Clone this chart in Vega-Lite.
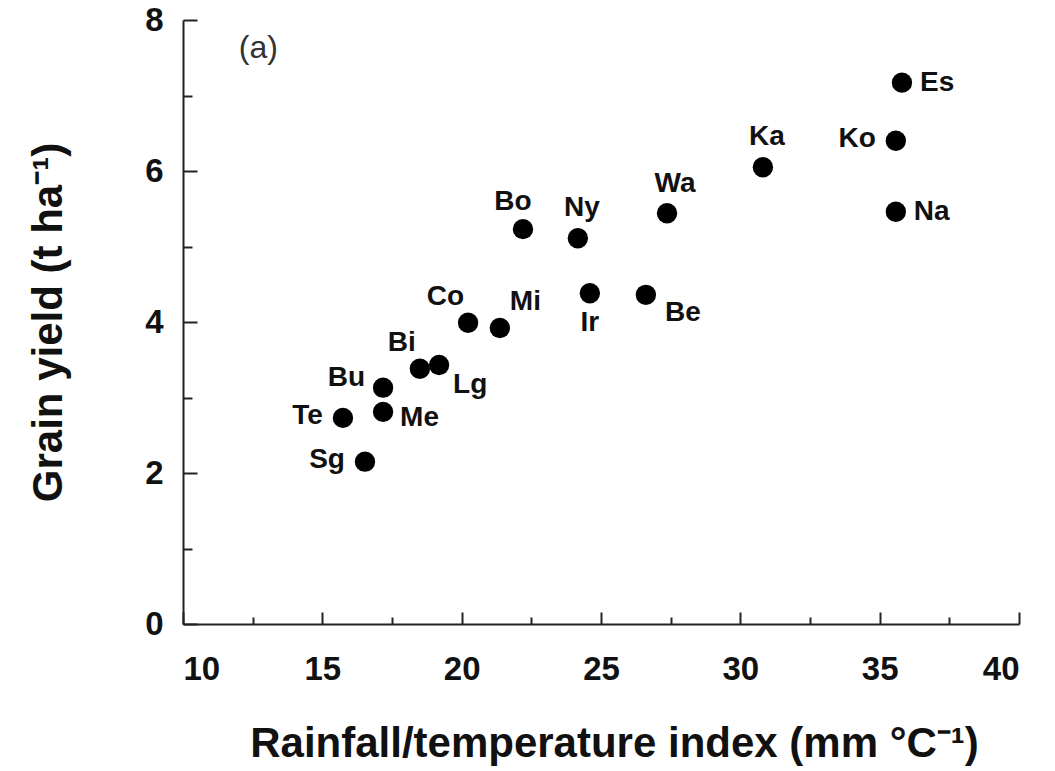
{
  "$schema": "https://vega.github.io/schema/vega-lite/v6.json",
  "width": 836,
  "height": 604,
  "autosize": {"type": "none"},
  "padding": {"left": 183, "top": 20, "right": 36, "bottom": 147},
  "background": "white",
  "config": {
    "view": {"stroke": null},
    "font": "Liberation Sans",
    "axis": {
      "grid": false,
      "domainColor": "#222",
      "domainWidth": 2,
      "tickColor": "#222",
      "tickWidth": 2,
      "labelFont": "Liberation Sans",
      "labelFontWeight": "bold",
      "labelFontSize": 33,
      "labelColor": "#111",
      "titleFont": "Liberation Sans",
      "titleFontWeight": "bold",
      "titleFontSize": 42,
      "titleColor": "#111"
    },
    "text": {"font": "Liberation Sans", "fontWeight": "bold", "fontSize": 28, "color": "#111", "baseline": "middle"}
  },
  "datasets": {
    "pts": [
      {"site": "Es", "rt": 35.80, "yield": 7.17},
      {"site": "Ko", "rt": 35.58, "yield": 6.40},
      {"site": "Na", "rt": 35.58, "yield": 5.46},
      {"site": "Ka", "rt": 30.81, "yield": 6.05},
      {"site": "Wa", "rt": 27.37, "yield": 5.44},
      {"site": "Bo", "rt": 22.20, "yield": 5.23},
      {"site": "Ny", "rt": 24.17, "yield": 5.11},
      {"site": "Ir", "rt": 24.60, "yield": 4.38},
      {"site": "Be", "rt": 26.61, "yield": 4.36},
      {"site": "Co", "rt": 20.23, "yield": 3.99},
      {"site": "Mi", "rt": 21.37, "yield": 3.92},
      {"site": "Bi", "rt": 18.50, "yield": 3.38},
      {"site": "Lg", "rt": 19.19, "yield": 3.43},
      {"site": "Bu", "rt": 17.18, "yield": 3.13},
      {"site": "Me", "rt": 17.18, "yield": 2.81},
      {"site": "Te", "rt": 15.74, "yield": 2.73},
      {"site": "Sg", "rt": 16.53, "yield": 2.15}
    ]
  },
  "layer": [
    {
      "data": {"name": "pts"},
      "encoding": {
        "x": {"field": "rt", "type": "quantitative", "scale": {"domain": [10, 40], "nice": false, "zero": false}, "axis": null},
        "y": {"field": "yield", "type": "quantitative", "scale": {"domain": [0, 8], "nice": false, "zero": false}, "axis": null}
      },
      "layer": [
        {
          "mark": {"type": "circle", "size": 415, "color": "black", "opacity": 1},
          "encoding": {
            "x": {"field": "rt", "type": "quantitative", "scale": {"domain": [10, 40], "nice": false, "zero": false},
              "axis": {"orient": "bottom", "values": [10, 15, 20, 25, 30, 35, 40], "ticks": false, "labelPadding": 29, "title": "Rainfall/temperature index (mm °C⁻¹)", "titlePadding": 37, "titleX": 431}},
            "y": {"field": "yield", "type": "quantitative", "scale": {"domain": [0, 8], "nice": false, "zero": false},
              "axis": {"orient": "left", "values": [0, 2, 4, 6, 8], "ticks": false, "labelPadding": 20, "title": "Grain yield (t ha⁻¹)", "titlePadding": 74}}
          }
        },
        {
          "mark": {"type": "circle", "opacity": 0},
          "encoding": {
            "x": {"field": "rt", "type": "quantitative", "scale": {"domain": [10, 40], "nice": false, "zero": false},
              "axis": {"orient": "top", "offset": -604, "values": [10, 15, 20, 25, 30, 35, 40], "tickSize": 12, "labels": false, "domain": false, "title": null}},
            "y": {"field": "yield", "type": "quantitative", "scale": {"domain": [0, 8], "nice": false, "zero": false},
              "axis": {"orient": "right", "offset": -836, "values": [0, 2, 4, 6, 8], "tickSize": 14, "labels": false, "domain": false, "title": null}}
          }
        },
        {
          "mark": {"type": "circle", "opacity": 0},
          "encoding": {
            "x": {"field": "rt", "type": "quantitative", "scale": {"domain": [10, 40], "nice": false, "zero": false},
              "axis": {"orient": "top", "offset": -604, "values": [12.5, 17.5, 22.5, 27.5, 32.5, 37.5], "tickSize": 7, "labels": false, "domain": false, "title": null}},
            "y": {"field": "yield", "type": "quantitative", "scale": {"domain": [0, 8], "nice": false, "zero": false},
              "axis": {"orient": "right", "offset": -836, "values": [1, 3, 5, 7], "tickSize": 9, "labels": false, "domain": false, "title": null}}
          }
        },
        {
          "transform": [{"filter": {"field": "site", "oneOf": ["Es", "Na"]}}],
          "mark": {"type": "text", "align": "left", "dx": 18, "dy": 0},
          "encoding": {"text": {"field": "site"}}
        },
        {
          "transform": [{"filter": {"field": "site", "oneOf": ["Me"]}}],
          "mark": {"type": "text", "align": "left", "dx": 17, "dy": 6},
          "encoding": {"text": {"field": "site"}}
        },
        {
          "transform": [{"filter": {"field": "site", "oneOf": ["Ko", "Te", "Sg"]}}],
          "mark": {"type": "text", "align": "right", "dx": -20, "dy": -2},
          "encoding": {"text": {"field": "site"}}
        },
        {
          "transform": [{"filter": {"field": "site", "oneOf": ["Bu"]}}],
          "mark": {"type": "text", "align": "right", "dx": -18, "dy": -10},
          "encoding": {"text": {"field": "site"}}
        },
        {
          "transform": [{"filter": {"field": "site", "oneOf": ["Ka", "Ny"]}}],
          "mark": {"type": "text", "align": "center", "dx": 4, "dy": -30},
          "encoding": {"text": {"field": "site"}}
        },
        {
          "transform": [{"filter": {"field": "site", "oneOf": ["Wa"]}}],
          "mark": {"type": "text", "align": "center", "dx": 8, "dy": -29},
          "encoding": {"text": {"field": "site"}}
        },
        {
          "transform": [{"filter": {"field": "site", "oneOf": ["Bo"]}}],
          "mark": {"type": "text", "align": "center", "dx": -10, "dy": -27},
          "encoding": {"text": {"field": "site"}}
        },
        {
          "transform": [{"filter": {"field": "site", "oneOf": ["Ir"]}}],
          "mark": {"type": "text", "align": "center", "dx": 0, "dy": 30},
          "encoding": {"text": {"field": "site"}}
        },
        {
          "transform": [{"filter": {"field": "site", "oneOf": ["Be"]}}],
          "mark": {"type": "text", "align": "center", "dx": 37, "dy": 18},
          "encoding": {"text": {"field": "site"}}
        },
        {
          "transform": [{"filter": {"field": "site", "oneOf": ["Co", "Bi"]}}],
          "mark": {"type": "text", "align": "right", "dx": -4, "dy": -26},
          "encoding": {"text": {"field": "site"}}
        },
        {
          "transform": [{"filter": {"field": "site", "oneOf": ["Mi"]}}],
          "mark": {"type": "text", "align": "left", "dx": 10, "dy": -26},
          "encoding": {"text": {"field": "site"}}
        },
        {
          "transform": [{"filter": {"field": "site", "oneOf": ["Lg"]}}],
          "mark": {"type": "text", "align": "left", "dx": 14, "dy": 20},
          "encoding": {"text": {"field": "site"}}
        }
      ],
      "resolve": {"axis": {"x": "independent", "y": "independent"}}
    },
    {
      "data": {"values": [{"panel": "(a)"}]},
      "mark": {"type": "text", "align": "left", "fontWeight": "normal", "fontSize": 32, "color": "#333"},
      "encoding": {
        "x": {"datum": 12, "type": "quantitative", "axis": null},
        "y": {"datum": 7.63, "type": "quantitative", "axis": null},
        "text": {"field": "panel"}
      }
    }
  ],
  "resolve": {"axis": {"x": "independent", "y": "independent"}}
}
